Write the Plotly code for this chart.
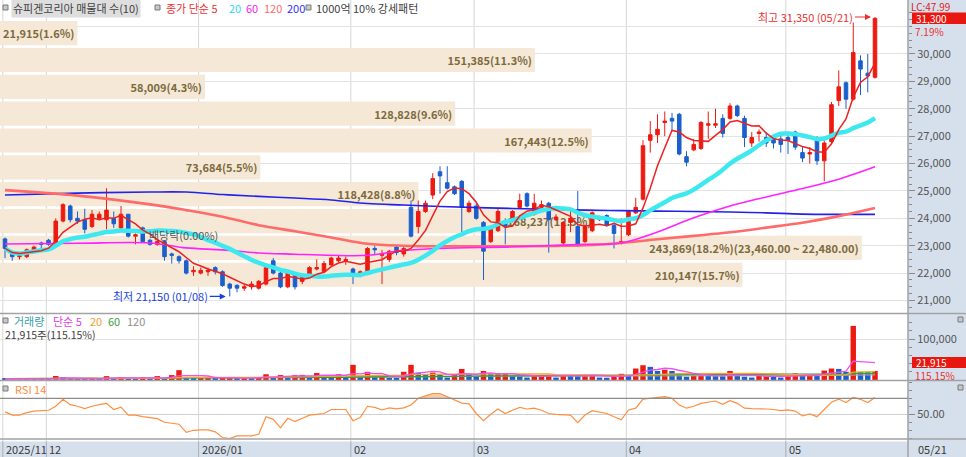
import pandas as pd
import plotly.graph_objects as go

W, H = 966, 457
CHART_W = 908          # drawing area, the price scale sits right of it
FONT = "Noto Sans CJK KR"

RED = "#ec1a10"
BLUE = "#1b5fcc"
BAND = "#d6e0ec"

# trading days shown (KRX holidays removed)
holidays = ["2025-12-25", "2025-12-31", "2026-01-01", "2026-02-16", "2026-02-17",
            "2026-02-18", "2026-03-02", "2026-05-01", "2026-05-05"]
dates = [d.strftime("%Y-%m-%d") for d in pd.bdate_range("2025-11-21", "2026-05-21")
         if d.strftime("%Y-%m-%d") not in holidays]

opens = [23250, 22750, 22600, 22600, 22800, 23100, 23200, 23050, 23900, 24450,
         24000, 23950, 23700, 24000, 23950, 24000, 23650, 24150, 23350, 23650,
         23200, 23050, 23150, 22700, 22600, 22450, 22050, 22000, 22050, 22200,
         22050, 21600, 21550, 21450, 21500, 21450, 21600, 22450, 22000, 21500,
         21950, 21700, 21900, 22150, 22050, 22300, 22450, 22450, 22150, 21900,
         22050, 22900, 22650, 22500, 22950, 22700, 24400, 23700, 24250, 24850,
         25700, 25300, 25150, 25350, 24250, 24450, 23850, 23150, 23550, 23900,
         23900, 24400, 24900, 24150, 24400, 24550, 23950, 23100, 23850, 23700,
         23150, 23550, 23950, 24100, 23750, 23100, 23400, 24200, 24700, 26850,
         27050, 27500, 27650, 27800, 26250, 26500, 26550, 27400, 27400, 27650,
         27650, 28100, 27650, 26750, 27100, 26950, 26950, 26900, 26950, 27150,
         26400, 26350, 26950, 26100, 26800, 28300, 28950, 28350, 29750, 29300,
         29150]
highs = [23300, 22800, 22700, 22900, 23000, 23150, 23250, 24000, 24550, 24500,
         24250, 24350, 24300, 24250, 25100, 24250, 24450, 24150, 23450, 23700,
         23250, 23200, 23200, 22750, 22650, 22500, 22250, 22200, 22200, 22250,
         22100, 21650, 21600, 21600, 21700, 21750, 22250, 22550, 22050, 22050,
         22000, 21950, 22250, 22500, 22450, 22600, 22650, 22600, 22200, 22100,
         22950, 23000, 22850, 22850, 23000, 22950, 24650, 24650, 24650, 25650,
         25900, 25900, 25200, 25400, 24650, 24550, 23900, 23700, 24350, 24000,
         24300, 24900, 24950, 24900, 24650, 24600, 24150, 23900, 24350, 25000,
         23750, 24250, 24100, 24150, 23800, 24000, 24300, 24750, 26850, 27550,
         27800, 27900, 27850, 27850, 26450, 26900, 27550, 27900, 28000, 27800,
         28200, 28150, 27750, 27150, 27250, 27150, 27050, 27150, 27150, 27200,
         26600, 26600, 27000, 26900, 28250, 29400, 29000, 31150, 29950, 30000,
         31350]
lows = [22550, 22450, 22500, 22550, 22750, 22850, 23000, 23000, 23850, 23850,
        23800, 23450, 23650, 23950, 23600, 23650, 23600, 23300, 23050, 23100,
        23000, 23000, 22450, 22350, 22350, 21950, 21900, 21950, 21900, 21950,
        21500, 21150, 21300, 21350, 21400, 21400, 21550, 21950, 21450, 21450,
        21400, 21600, 21850, 22100, 22000, 22250, 22400, 22300, 21600, 21850,
        22000, 22700, 21600, 22400, 22650, 22600, 23300, 23450, 24200, 24700,
        24900, 25050, 24850, 23350, 24200, 23950, 21750, 23100, 23500, 23050,
        23850, 24350, 24400, 24100, 24350, 22750, 23900, 23050, 23500, 22950,
        23100, 23500, 23900, 23700, 22900, 23050, 23350, 24150, 24650, 26400,
        26750, 27000, 27200, 26300, 25900, 26450, 26500, 26900, 27300, 26950,
        27600, 27700, 26600, 26600, 26800, 26600, 26550, 26400, 26350, 26500,
        26050, 26000, 25950, 25350, 26750, 28100, 28000, 28300, 28500, 28600,
        29100]
closes = [22900, 22600, 22650, 22850, 22950, 23050, 23050, 23900, 24500, 23950,
          23900, 23600, 24150, 24150, 24300, 23800, 24150, 23350, 23400, 23150,
          23050, 23150, 22600, 22650, 22450, 22000, 22100, 22100, 22100, 22050,
          21550, 21450, 21450, 21500, 21600, 21700, 22200, 22000, 21500, 22000,
          21500, 21900, 22200, 22200, 22350, 22550, 22550, 22500, 21950, 22050,
          22900, 22850, 22700, 22800, 22750, 22900, 23350, 24250, 24550, 25450,
          25550, 25100, 24900, 24400, 24550, 24000, 22800, 23600, 24250, 23700,
          24250, 24650, 24450, 24550, 24500, 23950, 24050, 23850, 24000, 23000,
          23700, 24200, 24000, 23750, 23450, 23150, 24250, 24400, 26650, 27050,
          27250, 27550, 27550, 26350, 26050, 26700, 27500, 27450, 27450, 27100,
          28100, 27750, 26950, 26950, 27150, 26750, 26750, 26700, 26850, 26600,
          26200, 26400, 26100, 26750, 28150, 28800, 28350, 30050, 29450, 29200,
          31300]
volumes = [3000, 2800, 2700, 2600, 2600, 2500, 2500, 9800, 7000, 3500,
           3000, 2500, 3300, 2800, 9500, 3000, 7200, 3000, 2800, 7000,
           3000, 9500, 3000, 12000, 24000, 5500, 4500, 7000, 7500, 3500,
           5500, 6000, 3000, 5500, 3000, 5500, 14000, 7000, 12000, 5500,
           12000, 12500, 7000, 17000, 12000, 8000, 14000, 7000, 37000, 7500,
           20000, 7000, 9500, 5000, 4500, 20000, 37000, 18000, 12000, 18000,
           14000, 6000, 12000, 27000, 14000, 9000, 22000, 15000, 15500, 16000,
           10000, 9000, 6000, 10000, 12000, 12500, 6000, 12000, 10000, 9500,
           12000, 12500, 6000, 5500, 10000, 15000, 10000, 28000, 36000, 32000,
           22000, 25000, 22000, 16000, 8000, 11000, 12500, 10000, 9500, 9000,
           22000, 10000, 8000, 6000, 10000, 10500, 8000, 6000, 10000, 16000,
           10000, 12000, 10000, 23000, 28000, 27000, 20000, 132000, 19500, 19032,
           21915]
rsi = [53, 49, 49, 52, 54, 54.6, 55, 60, 68.7, 62,
       60, 57, 60, 62, 63.7, 56, 59, 49, 49, 47,
       46, 44.6, 40, 38.5, 37.6, 27.5, 30, 30.4, 30.4, 28,
       21, 19.5, 23, 23, 23, 25, 47, 43.7, 33, 45,
       40.8, 45, 49, 50, 51, 56, 56, 56, 42, 46,
       60, 58.7, 55.4, 58, 56.7, 58, 61.6, 70, 73, 76,
       76, 72, 68, 64, 63, 51, 42, 50, 56.6, 51,
       55, 58.7, 56.6, 57.6, 55, 51, 50, 49.5, 49, 39.5,
       49, 54.5, 53, 51, 47, 43, 55.4, 57.6, 69, 70,
       71, 72, 70, 61.6, 57.6, 60, 63.7, 65, 66.6, 62.5,
       67, 63.7, 57.6, 57, 57, 56.6, 56, 54.5, 55.4, 54,
       47.9, 50.5, 47, 56, 65, 69, 64.6, 71, 68.7, 64.6,
       71]

# long moving averages (their history lies before the first day)
ma_days = [0, 10, 20, 25, 30, 35, 40, 45, 50, 55, 60, 70, 80, 85, 90, 95, 100, 105, 110, 115, 120]
ma60 = [23065, 23090, 23100, 22920, 22850, 22735, 22690, 22650, 22650, 22830, 22905,
        22960, 23050, 23100, 23500, 24020, 24450, 24780, 25090, 25430, 25880]
ma120 = [25030, 24830, 24510, 24300, 24060, 23750, 23530, 23300, 23070, 23000, 22980,
         22980, 23015, 23100, 23235, 23360, 23490, 23660, 23840, 24080, 24375]
ma200 = [24850, 24920, 24960, 24960, 24870, 24800, 24740, 24670, 24540, 24485, 24430,
         24360, 24300, 24280, 24265, 24250, 24230, 24200, 24155, 24145, 24145]

# volume profile (매물대), top band first
band_top = 31300
band_step = 980
band_vol = [21915, 151385, 58009, 128828, 167443, 73684, 118428, 168237, 243869, 210147]
band_pct = [1.6, 11.3, 4.3, 9.6, 12.5, 5.5, 8.8, 12.5, 18.2, 15.7]

ex_div_day = 19


def px_x(px):
    return px / W


def px_y(py):
    return 1 - py / H


n = len(dates)
s_close = pd.Series(closes)
ma5 = s_close.rolling(5, min_periods=1).mean()
ma20 = s_close.rolling(20, min_periods=1).mean()
s_vol = pd.Series(volumes)
ma_dates = [dates[i] for i in ma_days]

fig = go.Figure()

# volume profile bars on the plain numeric x axis (drawn beneath everything)
band_lo = [band_top - band_step * (k + 1) for k in range(len(band_vol))]
labels = []
for k, (v, p) in enumerate(zip(band_vol, band_pct)):
    t = f"{v:,}({p}%)"
    if v == max(band_vol):
        t += f"({band_lo[k] + band_step:,}.00 ~ {band_lo[k]:,}.00)"
    labels.append(t)
fig.add_trace(go.Bar(
    x=band_vol, y=[b + band_step * 0.45 for b in band_lo], orientation="h",
    width=band_step * 0.9, marker=dict(color="#f5e8d6", line=dict(width=0)),
    text=labels, textposition="inside", insidetextanchor="end", textangle=0,
    constraintext="none",
    textfont=dict(family=FONT, size=11, color="#7c6a3d", weight="bold"),
    xaxis="x", yaxis="y", hoverinfo="skip"))

# candles first so the date order of the category axis is set by the full list
fig.add_trace(go.Candlestick(
    x=dates, open=opens, high=highs, low=lows, close=closes,
    increasing=dict(line=dict(color=RED, width=1), fillcolor=RED),
    decreasing=dict(line=dict(color=BLUE, width=1), fillcolor=BLUE),
    whiskerwidth=0, xaxis="x2", yaxis="y"))

# moving averages
for vals, color, width in [(ma200, "#2222ee", 1.6), (ma120, "#ff6a6a", 2.6), (ma60, "#ff22ff", 1.6)]:
    fig.add_trace(go.Scatter(x=ma_dates, y=vals, mode="lines", line=dict(color=color, width=width, shape="spline"),
                             xaxis="x2", yaxis="y", hoverinfo="skip"))
fig.add_trace(go.Scatter(x=dates, y=ma20, mode="lines", line=dict(color="#3ee8ef", width=4.5, shape="spline"),
                         xaxis="x2", yaxis="y", hoverinfo="skip"))
fig.add_trace(go.Scatter(x=dates, y=ma5, mode="lines", line=dict(color="#ee2020", width=1.5),
                         xaxis="x2", yaxis="y", hoverinfo="skip"))

# volume: red when volume rose against the previous day
vol_colors = [BLUE] + [RED if volumes[i] > volumes[i - 1] else BLUE for i in range(1, n)]
fig.add_trace(go.Bar(x=dates, y=volumes, marker=dict(color=vol_colors, line=dict(width=0)),
                     xaxis="x3", yaxis="y3", hoverinfo="skip"))
for win, color in [(120, "#a0a0a0"), (60, "#2e9e3e"), (20, "#f5a623"), (5, "#f050f0")]:
    fig.add_trace(go.Scatter(x=dates, y=s_vol.rolling(win, min_periods=1).mean(), mode="lines",
                             line=dict(color=color, width=1.3), xaxis="x3", yaxis="y3", hoverinfo="skip"))

# RSI with shading above 70
fig.add_trace(go.Scatter(x=dates, y=[70] * n, mode="lines", line=dict(width=0),
                         xaxis="x4", yaxis="y4", hoverinfo="skip"))
fig.add_trace(go.Scatter(x=dates, y=[max(v, 70) for v in rsi], mode="lines", line=dict(width=0),
                         fill="tonexty", fillcolor="rgba(246,170,110,0.6)",
                         xaxis="x4", yaxis="y4", hoverinfo="skip"))
fig.add_trace(go.Scatter(x=dates, y=rsi, mode="lines", line=dict(color="#ff8f40", width=1.2),
                         xaxis="x4", yaxis="y4", hoverinfo="skip"))

xr = [-0.69, (CHART_W - 5) / 7.25]
xdom = [0, CHART_W / W]
cat = dict(type="category", categoryorder="array", categoryarray=dates, range=xr, visible=False)
tickfont = dict(family=FONT, size=11, color="#555555")
price_ticks = list(range(21000, 32000, 1000))
fig.update_layout(
    width=W, height=H, margin=dict(l=0, r=0, t=0, b=0),
    paper_bgcolor="white", plot_bgcolor="white", showlegend=False, bargap=0.25,
    xaxis=dict(domain=xdom, range=[0, max(band_vol) / 0.949], visible=False, anchor="y", fixedrange=True),
    xaxis2=dict(domain=xdom, overlaying="x", anchor="y", rangeslider=dict(visible=False), **cat),
    xaxis3=dict(domain=xdom, anchor="y3", **cat),
    xaxis4=dict(domain=xdom, anchor="y4", **cat),
    yaxis=dict(domain=[px_y(313), 1], range=[20544, 31971], side="right", anchor="x",
               tickmode="array", tickvals=price_ticks,
               ticktext=[f"{t:,}" if t < 31000 else "" for t in price_ticks],
               showgrid=True, gridcolor="#e3e3e3", zeroline=False, ticks="outside", ticklen=6,
               tickcolor="#8a8a8a", tickfont=tickfont,
               minor=dict(tickmode="array", tickvals=list(range(20750, 31750, 250)), ticks="outside",
                          ticklen=3, tickcolor="#8a8a8a", showgrid=False)),
    yaxis3=dict(domain=[px_y(380), px_y(314)], range=[0, 160976], side="right", anchor="x3",
                tickmode="array", tickvals=[100000], ticktext=["100,000"], showgrid=True,
                gridcolor="#e3e3e3", zeroline=False, ticks="outside", ticklen=6, tickcolor="#8a8a8a",
                tickfont=tickfont,
                minor=dict(tickmode="array", tickvals=list(range(20000, 160000, 20000)), ticks="outside",
                           ticklen=3, tickcolor="#8a8a8a", showgrid=False)),
    yaxis4=dict(domain=[px_y(439), px_y(381)], range=[19.1, 91.6], side="right", anchor="x4",
                tickmode="array", tickvals=[50], ticktext=["50.00"], showgrid=True,
                gridcolor="#d0d0d0", zeroline=False, ticks="outside", ticklen=6, tickcolor="#8a8a8a",
                tickfont=tickfont,
                minor=dict(tickmode="array", tickvals=list(range(20, 91, 10)), ticks="outside",
                           ticklen=3, tickcolor="#8a8a8a", showgrid=False)),
)

shapes = []
annotations = []


def note(text, px, py, color, size=11, anchor="left", **kw):
    annotations.append(dict(text=text, x=px_x(px), y=px_y(py), xref="paper", yref="paper",
                            xanchor=anchor, yanchor="middle", showarrow=False,
                            font=dict(family=FONT, size=size, color=color), **kw))


def rect(x0, y0, x1, y1, fill, line=None, layer="above"):
    shapes.append(dict(type="rect", xref="paper", yref="paper", x0=px_x(x0), x1=px_x(x1),
                       y0=px_y(y1), y1=px_y(y0), fillcolor=fill, layer=layer,
                       line=dict(width=1 if line else 0, color=line or fill)))


def icon(px, py):
    rect(px, py - 3, px + 5, py + 2, "#c8c8c8", "#7a7a7a")


# scale band on the right and date band at the bottom
rect(CHART_W, 0, W, H, BAND, layer="below")
rect(0, 441.5, CHART_W, H, BAND, layer="below")

# month separators and labels
for i in range(n):
    if i == 0 or dates[i][5:7] != dates[i - 1][5:7]:
        shapes.append(dict(type="line", xref="x2", yref="paper", x0=i - 0.3, x1=i - 0.3, y0=0, y1=1,
                           line=dict(color="#d6d6d6", width=1), layer="below"))
        shapes.append(dict(type="line", xref="x2", yref="paper", x0=i - 0.3, x1=i - 0.3,
                           y0=0, y1=px_y(441.5), line=dict(color="#a8b0bc", width=1)))
        if i == 0 or dates[i][5:7] == "01":
            lab = dates[i][:4] + "/" + dates[i][5:7]
        else:
            lab = dates[i][5:7]
        annotations.append(dict(text=lab, x=i - 0.3, y=px_y(449), xref="x2", yref="paper",
                                xanchor="left", yanchor="middle", showarrow=False, xshift=1,
                                font=dict(family=FONT, size=11, color="#3a3a3a")))

# panel separators
for py in [313.5, 380.5, 439]:
    shapes.append(dict(type="line", xref="paper", yref="paper", x0=0, x1=1, y0=px_y(py), y1=px_y(py),
                       line=dict(color="#a2a2a2", width=1.5)))
shapes.append(dict(type="line", xref="paper", yref="paper", x0=px_x(CHART_W), x1=px_x(CHART_W),
                   y0=0, y1=1, line=dict(color="#a2a2a2", width=1.5)))
shapes.append(dict(type="line", xref="paper", yref="y4", x0=0, x1=px_x(CHART_W), y0=70, y1=70,
                   line=dict(color="#8c8c8c", width=1.2)))

# header legends
icon(3, 8)
note("슈피겐코리아 매물대 수(10)", 11, 8, "#404040", bgcolor="#dedede", borderpad=1)
icon(155, 8)
note("종가 단순 5", 164, 8, "#f03030")
note("20", 227, 8, "#30d8f0")
note("60", 244, 8, "#f020f0")
note("120", 262, 8, "#ff6a6a")
note("200", 285, 8, "#3333ff")
icon(306, 8)
note("1000억 10% 강세패턴", 314, 8, "#404040")

icon(3, 321)
note("거래량", 13, 321, "#39a0a8", borderpad=0)
note("단순 5", 52, 321, "#e040e0", borderpad=0)
note("20", 89, 321, "#f0a030", borderpad=0)
note("60", 107, 321, "#40a040", borderpad=0)
note("120", 126, 321, "#909090", borderpad=0)
note(f"{volumes[-1]:,}주({volumes[-1] / volumes[-2] * 100:.2f}%)", 4, 334.5, "#404040", size=10.5,
     borderpad=0)

icon(3, 389)
note("RSI 14", 13, 389, "#ff8a3d")

# price scale extras (tightly stacked, as in the trading screen)
note("LC:47.99", 910, 6.5, "#e02020", size=10, borderpad=0)
rect(912, 12.5, W, 24, "#e8170f")
note(f"{closes[-1]:,}", 915, 18.5, "white", size=10, borderpad=0)
note(f"{(closes[-1] / closes[-2] - 1) * 100:.2f}%", 914, 31.5, "#e83030", size=10, borderpad=0)
rect(912, 357, W, 368, "#e8170f")
note(f"{volumes[-1]:,}", 915, 362.5, "white", size=10, borderpad=0)
note(f"{volumes[-1] / volumes[-2] * 100:.2f}%", 914, 375.5, "#e83030", size=10, borderpad=0)
icon(958, 320)
icon(958, 388)
note(dates[-1][5:7] + "/" + dates[-1][8:10], 916, 448.5, "#3a3a3a")

# highest / lowest markers
hi = highs.index(max(highs))
lo = lows.index(min(lows))
for idx, val, word, color in [(hi, highs[hi], "최고", "#e83030"), (lo, lows[lo], "최저", "#1a3fd8")]:
    md = dates[idx][5:7] + "/" + dates[idx][8:10]
    annotations.append(dict(text=f"{word} {val:,} ({md})", x=idx, y=val, xref="x2", yref="y",
                            showarrow=True, ax=-20, ay=0, xanchor="right", yanchor="middle",
                            arrowhead=2, arrowsize=1, arrowwidth=1.2, arrowcolor=color, standoff=4,
                            font=dict(family=FONT, size=11, color=color)))

annotations.append(dict(text="배당락(0.00%)", x=ex_div_day, y=(opens[ex_div_day] + closes[ex_div_day]) / 2,
                        xref="x2", yref="y", xanchor="left", yanchor="middle", showarrow=False, xshift=4,
                        font=dict(family=FONT, size=11, color="#555555")))

fig.update_layout(shapes=shapes, annotations=annotations)
# the page gets no body margin so the chart fills the window exactly
fig.write_html("out.html", config={"displayModeBar": False},
               post_script="document.body.style.margin='0px';")
